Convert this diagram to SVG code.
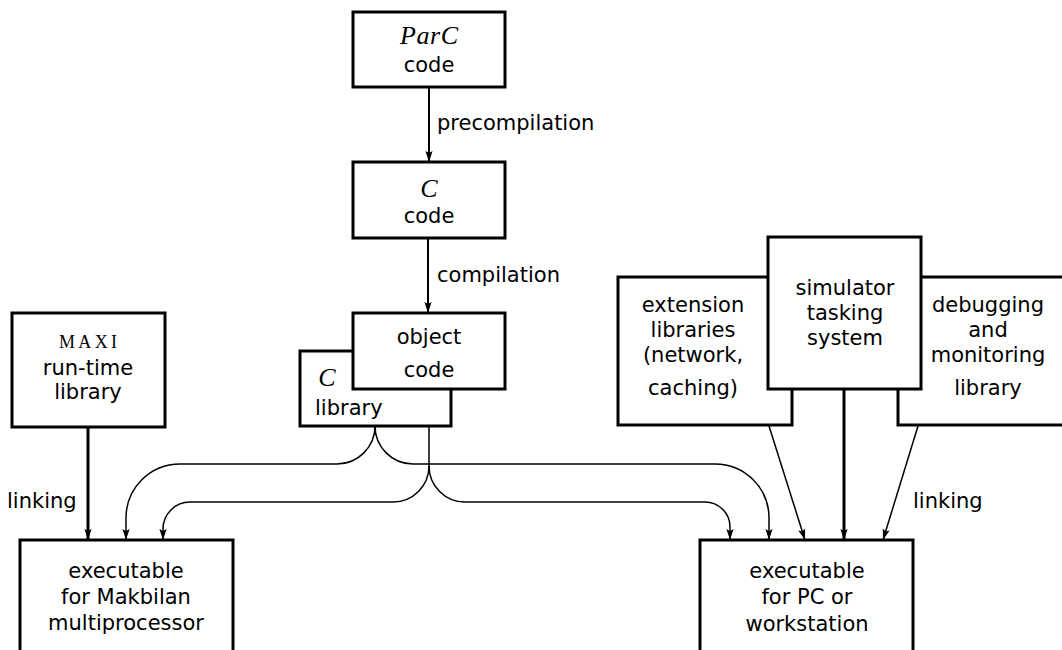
<svg xmlns="http://www.w3.org/2000/svg" width="1062" height="650" viewBox="0 0 1062 650">
  <style>
    .box { fill: #fff; stroke: #000; stroke-width: 3; }
    .t { font-family: "DejaVu Sans", "Liberation Sans", sans-serif; font-size: 21px; fill: #000; text-anchor: middle; }
    .ts { font-family: "DejaVu Sans", "Liberation Sans", sans-serif; font-size: 21px; fill: #000; }
    .m { font-family: "Liberation Serif", "DejaVu Serif", serif; font-style: italic; font-size: 26px; fill: #000; text-anchor: middle; }
    .sc { font-family: "Liberation Serif", "DejaVu Serif", serif; font-size: 18px; fill: #000; text-anchor: middle; }
    .ln { fill: none; stroke: #000; }
    .w2 { stroke-width: 2; }
    .w3 { stroke-width: 3; }
    .w1 { stroke-width: 1.5; }
  </style>
  <defs>
    <marker id="ah" viewBox="-12 -5 13 10" refX="0" refY="0" markerWidth="13" markerHeight="10" markerUnits="userSpaceOnUse" orient="auto">
      <path d="M0,0 L-11,-3.6 L-9,0 L-11,3.6 z" fill="#000"/>
    </marker>
  </defs>

  <rect width="1062" height="650" fill="#fff"/>

  <!-- connectors -->
  <g id="connectors">
    <line class="ln w2" x1="429" y1="87" x2="429" y2="162" marker-end="url(#ah)"/>
    <line class="ln w2" x1="428" y1="238" x2="428" y2="313" marker-end="url(#ah)"/>
    <line class="ln w3" x1="88" y1="427" x2="88" y2="540" marker-end="url(#ah)"/>
    <line class="ln w3" x1="844" y1="389" x2="844" y2="540" marker-end="url(#ah)"/>
    <line class="ln w1" x1="769" y1="426" x2="805" y2="540" marker-end="url(#ah)"/>
    <line class="ln w1" x1="918" y1="426" x2="883" y2="540" marker-end="url(#ah)"/>
    <!-- C library fan-out -->
    <path class="ln w1" d="M375,426 A38,38 0 0 1 337,464 H180 A54,54 0 0 0 126,518 V540" marker-end="url(#ah)"/>
    <path class="ln w1" d="M375,426 A38,38 0 0 0 413,464 H715 A54,54 0 0 1 769,518 V540" marker-end="url(#ah)"/>
    <!-- object code fan-out -->
    <path class="ln w1" d="M429,389 V466 A36,36 0 0 1 393,502 H190 A27,27 0 0 0 163,529 V540" marker-end="url(#ah)"/>
    <path class="ln w1" d="M429,466 A36,36 0 0 0 465,502 H705 A25,25 0 0 1 730,527 V540" marker-end="url(#ah)"/>
  </g>

  <!-- edge labels -->
  <text class="ts" x="437" y="130">precompilation</text>
  <text class="ts" x="437" y="282">compilation</text>
  <text class="ts" x="7" y="508">linking</text>
  <text class="ts" x="913" y="508">linking</text>

  <g id="parc">
    <rect class="box" x="353" y="12" width="152" height="75"/>
    <text class="m" x="429" y="44" textLength="58" lengthAdjust="spacing">ParC</text>
    <text class="t" x="429" y="72">code</text>
  </g>

  <g id="ccode">
    <rect class="box" x="353" y="162" width="152" height="76"/>
    <text class="m" x="429" y="197">C</text>
    <text class="t" x="429" y="223">code</text>
  </g>

  <g id="clib">
    <rect class="box" x="300" y="351" width="151" height="75"/>
    <text class="m" x="327" y="386">C</text>
    <text class="ts" x="315" y="415">library</text>
  </g>

  <g id="object">
    <rect class="box" x="353" y="313" width="152" height="76"/>
    <text class="t" x="429" y="344">object</text>
    <text class="t" x="429" y="377">code</text>
  </g>

  <g id="maxi">
    <rect class="box" x="12" y="313" width="153" height="114"/>
    <text class="sc" x="88" y="348" textLength="58" lengthAdjust="spacing">MAXI</text>
    <text class="t" x="88" y="375">run-time</text>
    <text class="t" x="88" y="399">library</text>
  </g>

  <g id="exec-makbilan">
    <rect class="box" x="20" y="540" width="213" height="120"/>
    <text class="t" x="126" y="578">executable</text>
    <text class="t" x="126" y="604">for Makbilan</text>
    <text class="t" x="126" y="630">multiprocessor</text>
  </g>

  <g id="extension">
    <rect class="box" x="618" y="277" width="174" height="148"/>
    <text class="t" x="693" y="312">extension</text>
    <text class="t" x="693" y="337">libraries</text>
    <text class="t" x="693" y="362">(network,</text>
    <text class="t" x="693" y="395">caching)</text>
  </g>

  <g id="debugging">
    <rect class="box" x="898" y="277" width="180" height="148"/>
    <text class="t" x="988" y="312">debugging</text>
    <text class="t" x="988" y="337">and</text>
    <text class="t" x="988" y="362">monitoring</text>
    <text class="t" x="988" y="395">library</text>
  </g>

  <g id="simulator">
    <rect class="box" x="768" y="237" width="153" height="152"/>
    <text class="t" x="845" y="295">simulator</text>
    <text class="t" x="845" y="320">tasking</text>
    <text class="t" x="845" y="345">system</text>
  </g>

  <g id="exec-pc">
    <rect class="box" x="700" y="540" width="213" height="120"/>
    <text class="t" x="807" y="578">executable</text>
    <text class="t" x="807" y="604">for PC or</text>
    <text class="t" x="807" y="631">workstation</text>
  </g>
</svg>
